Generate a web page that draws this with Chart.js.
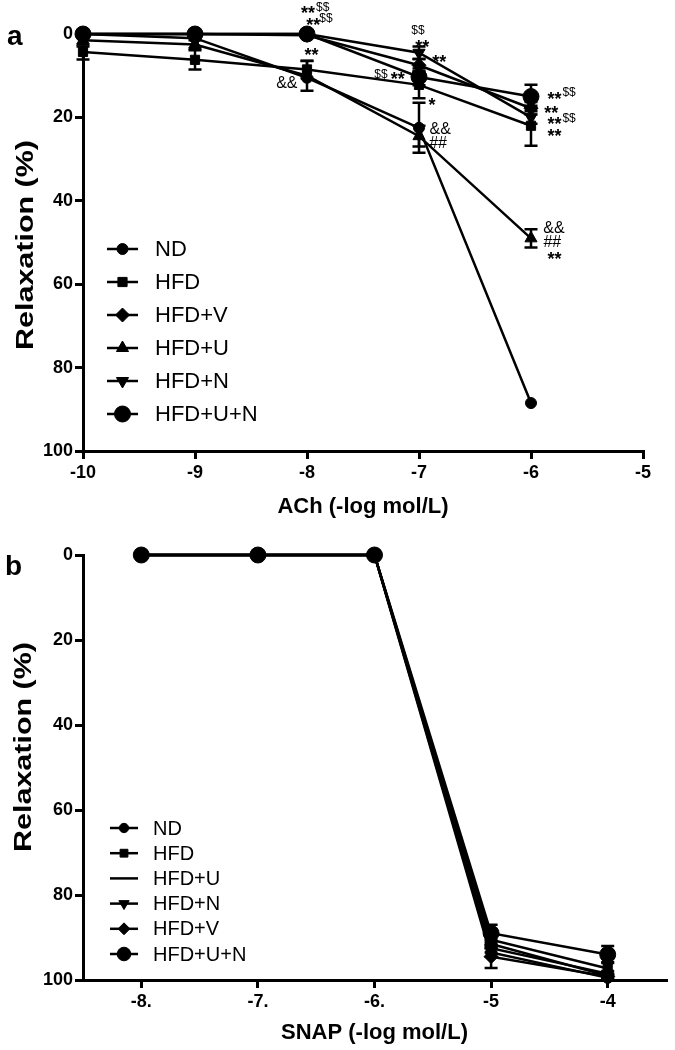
<!DOCTYPE html>
<html><head><meta charset="utf-8">
<script src="https://cdn.jsdelivr.net/npm/chart.js@4.4.1/dist/chart.umd.min.js"></script>
<style>
html,body{margin:0;padding:0;background:#fff;}
.panel{position:relative;width:675px;height:525px;}
canvas{display:block;}
</style></head><body>
<div class="panel"><canvas id="ca"></canvas></div>
<div class="panel"><canvas id="cb"></canvas></div>
<script>
// ---------- DATA ----------
const seriesNamesA = ['ND','HFD','HFD+V','HFD+U','HFD+N','HFD+U+N'];
const seriesNamesB = ['ND','HFD','HFD+U','HFD+N','HFD+V','HFD+U+N'];

// Panel a: ACh
const achDoses = [-10, -9, -8, -7, -6];
const achND    = [0,   1,   10.5, 22.5, 88.5];
const achHFD   = [4.3, 6.2, 8.5,  12.2, 22];
const achHFDV  = [0,   0,   0.3,  7.5,  17.8];
const achHFDU  = [1.5, 2.5, 10,   24.5, 49];
const achHFDN  = [0,   0,   0,    4.5,  20];
const achHFDUN = [0,   0,   0,    10.3, 15];
const achErrND    = [0,   0,   0,   6,   0];
const achErrHFD   = [1.8, 2.3, 2,   3.2, 4.8];
const achErrHFDV  = [0,   0,   0,   1.5, 1.5];
const achErrHFDU  = [1.5, 1,   3.6, 2.5, 2.2];
const achErrHFDN  = [0,   0,   0,   1.5, 1.5];
const achErrHFDUN = [0,   0,   0,   2,   2.8];
const achTicks = [-10, -9, -8, -7, -6, -5];
const achTickLabels = ['-10', '-9', '-8', '-7', '-6', '-5'];

// Panel b: SNAP
const snapDoses = [-8, -7, -6, -5, -4];
const snapND    = [0, 0, 0, 93.5, 99.5];
const snapHFD   = [0, 0, 0, 90.5, 97.3];
const snapHFDU  = [0, 0, 0, 91.5, 99];
const snapHFDN  = [0, 0, 0, 92.5, 98.5];
const snapHFDV  = [0, 0, 0, 94.5, 99.2];
const snapHFDUN = [0, 0, 0, 89,   94];
const snapErrND    = [0, 0, 0, 1,   0.5];
const snapErrHFD   = [0, 0, 0, 1.5, 1.5];
const snapErrHFDU  = [0, 0, 0, 1,   0.5];
const snapErrHFDN  = [0, 0, 0, 1,   0.5];
const snapErrHFDV  = [0, 0, 0, 2.7, 0.5];
const snapErrHFDUN = [0, 0, 0, 2,   2];
const snapTicks = [-8, -7, -6, -5, -4];
const snapTickLabels = ['-8.', '-7.', '-6.', '-5', '-4'];

const relTicks = [0, 20, 40, 60, 80, 100];
const relTickLabels = ['0', '20', '40', '60', '80', '100'];

// significance labels (panel a), anchored in data coordinates
const sigLabels = [
  {x:-7.99, y:-6.2, t:'**'}, {x:-7.86, y:-6.6, t:'$$'},
  {x:-7.945, y:-3.5, t:'**'}, {x:-7.83, y:-3.9, t:'$$'},
  {x:-7.96, y:3.8, t:'**'},
  {x:-8.18, y:11.5, t:'&&'},
  {x:-7.01, y:-1.0, t:'$$'},
  {x:-6.97, y:1.9, t:'**'},
  {x:-6.82, y:5.5, t:'**'},
  {x:-7.34, y:9.6, t:'$$'}, {x:-7.19, y:9.6, t:'**'},
  {x:-6.885, y:15.8, t:'*'},
  {x:-6.81, y:22.5, t:'&&'},
  {x:-6.83, y:25.9, t:'##'},
  {x:-5.79, y:14.4, t:'**'}, {x:-5.66, y:13.9, t:'$$'},
  {x:-5.82, y:17.7, t:'**'},
  {x:-5.79, y:20.4, t:'**'}, {x:-5.66, y:20.1, t:'$$'},
  {x:-5.79, y:23.3, t:'**'},
  {x:-5.795, y:46.3, t:'&&'},
  {x:-5.81, y:49.6, t:'##'},
  {x:-5.79, y:52.8, t:'**'}
];

// ---------- STYLES ----------
const FONT = "'Liberation Sans', Arial, Helvetica, sans-serif";
const markerStyle = {
  'ND':      {pointStyle:'circle',   radius:5.5, rotation:0},
  'HFD':     {pointStyle:'rect',     radius:6.5, rotation:0},
  'HFD+V':   {pointStyle:'rectRot',  radius:7,   rotation:0},
  'HFD+U':   {pointStyle:'triangle', radius:7,   rotation:0},
  'HFD+N':   {pointStyle:'triangle', radius:7,   rotation:180},
  'HFD+U+N': {pointStyle:'circle',   radius:8,   rotation:0}
};

function mkDataset(name, xs, ys, errs, noMarker) {
  const m = markerStyle[name];
  return {
    label: name,
    data: xs.map((x, i) => ({x: x, y: ys[i]})),
    errors: errs,
    borderColor: '#000',
    backgroundColor: '#000',
    borderWidth: 2.5,
    pointStyle: noMarker ? false : m.pointStyle,
    pointRadius: noMarker ? 0 : m.radius,
    pointRotation: m.rotation,
    pointBackgroundColor: '#000',
    pointBorderColor: '#000',
    pointBorderWidth: 1,
    pointHoverRadius: noMarker ? 0 : m.radius,
    tension: 0,
    clip: false,
    noMarker: !!noMarker
  };
}

// ---------- PLUGINS ----------
const errorBarPlugin = {
  id: 'errbars',
  afterDatasetsDraw(chart) {
    const ctx = chart.ctx, xs = chart.scales.x, ys = chart.scales.y;
    ctx.save();
    ctx.strokeStyle = '#000';
    ctx.lineWidth = 2.5;
    chart.data.datasets.forEach(ds => {
      if (!ds.errors) return;
      ds.data.forEach((p, i) => {
        const e = ds.errors[i];
        if (!e) return;
        const px = xs.getPixelForValue(p.x);
        const y1 = ys.getPixelForValue(p.y - e);
        const y2 = ys.getPixelForValue(p.y + e);
        ctx.beginPath();
        ctx.moveTo(px, y1); ctx.lineTo(px, y2);
        ctx.moveTo(px - 6.5, y1); ctx.lineTo(px + 6.5, y1);
        ctx.moveTo(px - 6.5, y2); ctx.lineTo(px + 6.5, y2);
        ctx.stroke();
      });
    });
    ctx.restore();
  }
};

const sigPlugin = {
  id: 'sig',
  afterDraw(chart, args, opts) {
    if (!opts || !opts.items) return;
    const ctx = chart.ctx, xs = chart.scales.x, ys = chart.scales.y;
    ctx.save();
    ctx.fillStyle = '#000';
    ctx.textAlign = 'center';
    ctx.textBaseline = 'alphabetic';
    opts.items.forEach(it => {
      const px = xs.getPixelForValue(it.x);
      const py = ys.getPixelForValue(it.y);
      let size, weight, k;
      if (it.t.indexOf('*') >= 0) { size = 18; weight = 'bold '; k = 0.62; }
      else if (it.t === '$$') { size = 12; weight = ''; k = 0.36; }
      else { size = 16; weight = ''; k = 0.36; }
      ctx.font = weight + size + 'px ' + FONT;
      ctx.fillText(it.t, px, py + k * size);
    });
    ctx.restore();
  }
};

const legendPlugin = {
  id: 'mylegend',
  afterDraw(chart, args, o) {
    if (!o || o.x === undefined) return;
    const ctx = chart.ctx;
    ctx.save();
    chart.data.datasets.forEach((ds, i) => {
      const y = o.y0 + i * o.dy;
      ctx.strokeStyle = '#000';
      ctx.fillStyle = '#000';
      ctx.lineWidth = 2.5;
      ctx.beginPath();
      ctx.moveTo(o.x, y); ctx.lineTo(o.x + o.len, y);
      ctx.stroke();
      if (!ds.noMarker) {
        ctx.lineWidth = 1;
        Chart.helpers.drawPoint(ctx, {
          pointStyle: ds.pointStyle, radius: ds.pointRadius * o.scale,
          rotation: ds.pointRotation, borderWidth: 1
        }, o.x + o.len / 2, y);
      }
      ctx.font = o.fontSize + 'px ' + FONT;
      ctx.textAlign = 'left';
      ctx.textBaseline = 'middle';
      ctx.fillText(ds.label, o.textX, y + 1);
    });
    ctx.restore();
  }
};

const decoPlugin = {
  id: 'deco',
  afterDraw(chart, args, o) {
    if (!o || !o.yTitle) return;
    const ctx = chart.ctx;
    ctx.save();
    ctx.fillStyle = '#000';
    ctx.font = 'bold ' + o.panelSize + 'px ' + FONT;
    ctx.textAlign = 'left';
    ctx.textBaseline = 'alphabetic';
    ctx.fillText(o.panel, o.panelX, o.panelY);
    ctx.translate(o.yTitleX, o.yTitleY);
    ctx.rotate(-Math.PI / 2);
    ctx.scale(o.stretch, 1);
    ctx.font = 'bold ' + o.yTitleSize + 'px ' + FONT;
    ctx.textAlign = 'center';
    ctx.textBaseline = 'middle';
    ctx.fillText(o.yTitle, 0, 0);
    ctx.restore();
  }
};

function axisCommon() {
  return {
    grid: {display: true, drawOnChartArea: false, drawTicks: true, tickLength: 8,
           tickWidth: 3, lineWidth: 3, color: '#000', tickColor: '#000'},
    border: {display: true, width: 3, color: '#000'}
  };
}

function makeChart(canvasId, datasets, cfg) {
  return new Chart(document.getElementById(canvasId), {
    type: 'line',
    data: {datasets: datasets},
    plugins: [errorBarPlugin, sigPlugin, legendPlugin, decoPlugin],
    options: {
      responsive: true,
      maintainAspectRatio: false,
      animation: false,
      events: [],
      layout: {padding: cfg.padding},
      scales: {
        x: Object.assign(axisCommon(), {
          type: 'linear', min: cfg.xmin, max: cfg.xmax,
          afterBuildTicks: s => { s.ticks = cfg.xTicks.map(v => ({value: v})); },
          afterFit: s => { s.height = cfg.xHeight; },
          ticks: {
            callback: v => cfg.xTickLabels[cfg.xTicks.indexOf(v)],
            font: {family: FONT, size: 18, weight: 'bold'}, color: '#000',
            padding: 3, maxRotation: 0, autoSkip: false
          },
          title: {display: true, text: cfg.xTitle, color: '#000',
                  font: {family: FONT, size: 22, weight: 'bold'},
                  padding: {top: 0, bottom: cfg.xTitlePad}}
        }),
        y: Object.assign(axisCommon(), {
          type: 'linear', reverse: true, min: 0, max: 100,
          afterBuildTicks: s => { s.ticks = relTicks.map(v => ({value: v})); },
          afterFit: s => { s.width = 83; },
          ticks: {
            callback: v => relTickLabels[relTicks.indexOf(v)],
            font: {family: FONT, size: 18, weight: 'bold'}, color: '#000',
            padding: 2, autoSkip: false
          }
        })
      },
      plugins: {
        legend: {display: false},
        tooltip: {enabled: false},
        sig: {items: cfg.sig || []},
        mylegend: cfg.legend,
        deco: cfg.deco
      }
    }
  });
}

// ---------- PANEL A ----------
const achSeries = {
  'ND': [achND, achErrND], 'HFD': [achHFD, achErrHFD], 'HFD+V': [achHFDV, achErrHFDV],
  'HFD+U': [achHFDU, achErrHFDU], 'HFD+N': [achHFDN, achErrHFDN], 'HFD+U+N': [achHFDUN, achErrHFDUN]
};
makeChart('ca', seriesNamesA.map(n => mkDataset(n, achDoses, achSeries[n][0], achSeries[n][1], false)), {
  padding: {top: 34, right: 32, left: 0, bottom: 0},
  xmin: -10, xmax: -5, xTicks: achTicks, xTickLabels: achTickLabels,
  xHeight: 74, xTitle: 'ACh (-log mol/L)', xTitlePad: 5,
  sig: sigLabels,
  legend: {x: 107, len: 31, y0: 249, dy: 33, textX: 155, fontSize: 22, scale: 1},
  deco: {panel: 'a', panelX: 7, panelY: 45, panelSize: 28,
         yTitle: 'Relaxation (%)', yTitleX: 26, yTitleY: 245, yTitleSize: 24, stretch: 1.27}
});

// ---------- PANEL B ----------
const snapSeries = {
  'ND': [snapND, snapErrND], 'HFD': [snapHFD, snapErrHFD], 'HFD+U': [snapHFDU, snapErrHFDU],
  'HFD+N': [snapHFDN, snapErrHFDN], 'HFD+V': [snapHFDV, snapErrHFDV], 'HFD+U+N': [snapHFDUN, snapErrHFDUN]
};
makeChart('cb', seriesNamesB.map(n => mkDataset(n, snapDoses, snapSeries[n][0], snapSeries[n][1], n === 'HFD+U')), {
  padding: {top: 30, right: 4, left: 0, bottom: 0},
  xmin: -8.5, xmax: -3.5, xTicks: snapTicks, xTickLabels: snapTickLabels,
  xHeight: 70, xTitle: 'SNAP (-log mol/L)', xTitlePad: 4,
  sig: [],
  legend: {x: 110, len: 28, y0: 303, dy: 25.2, textX: 153, fontSize: 20, scale: 0.85},
  deco: {panel: 'b', panelX: 5, panelY: 50, panelSize: 28,
         yTitle: 'Relaxation (%)', yTitleX: 24, yTitleY: 222, yTitleSize: 24, stretch: 1.27}
});
</script>
</body></html>
